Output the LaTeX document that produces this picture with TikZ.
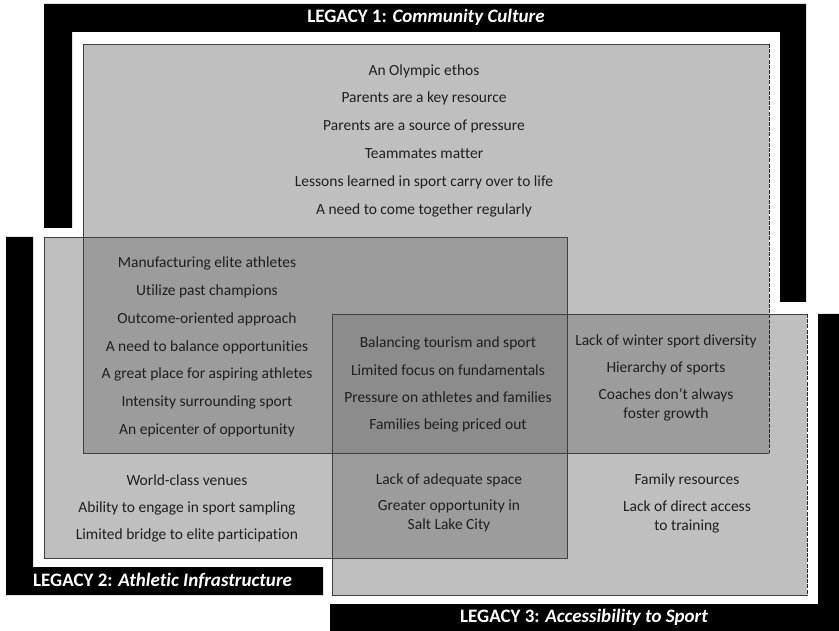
\documentclass[tikz,border=0pt]{standalone}
\usepackage{fontspec}
\setmainfont[Ligatures=NoCommon]{Carlito}
\begin{document}
\begin{tikzpicture}[x=1pt,y=-1pt,
  item/.style={inner sep=0pt, text=black!88, font=\fontsize{15.5}{19}\selectfont, align=center, yshift=-2pt},
  heading/.style={inner sep=0pt, text=white, font=\fontsize{19}{22}\selectfont\bfseries, anchor=west},
  bracket/.style={fill=black, draw=none},
  edge/.style={draw=black!75, line width=0.9pt},
  dashededge/.style={draw=black!85, line width=0.9pt, dash pattern=on 4pt off 1.2pt}]
\useasboundingbox (0,0) rectangle (839,631);
\fill[white] (0,0) rectangle (839,631);

% black frames of the three legacies
\fill[bracket] (44,4) -- (806,4) -- (806,302) -- (780,302) -- (780,32) -- (72,32) -- (72,228) -- (44,228) -- cycle;
\fill[bracket] (6,237) -- (33,237) -- (33,567) -- (323,567) -- (323,595) -- (6,595) -- cycle;
\fill[bracket] (818,314) -- (839,314) -- (839,631) -- (330,631) -- (330,604) -- (818,604) -- cycle;

% region fills: single, pairwise and triple overlaps
\fill[black!25] (83,44) rectangle (769,453);
\fill[black!25] (44,237) rectangle (567,558);
\fill[black!25] (332,314) rectangle (807,595);
\fill[black!39] (83,237) rectangle (567,453);
\fill[black!39] (332,314) rectangle (769,453);
\fill[black!39] (332,314) rectangle (567,558);
\fill[black!45] (332,314) rectangle (567,453);

% region outlines
\draw[edge] (769,44) -- (83,44) -- (83,453) -- (769,453);
\draw[dashededge] (769,44) -- (769,453);
\draw[edge] (44,237) rectangle (567,558);
\draw[edge] (807,314) -- (332,314) -- (332,595) -- (807,595);
\draw[dashededge] (807,314) -- (807,595);

% headings
\node[heading, anchor=center] (h1) at (426,17) {LEGACY 1: \textit{Community Culture}};
\node[heading] (h2) at (33,581) {LEGACY 2: \textit{Athletic Infrastructure}};
\node[heading] (h3) at (460,617) {LEGACY 3: \textit{Accessibility to Sport}};

% Legacy 1 only
\node[item] (a1) at (424,69) {An Olympic ethos};
\node[item] (a2) at (424,96) {Parents are a key resource};
\node[item] (a3) at (424,124) {Parents are a source of pressure};
\node[item] (a4) at (424,152) {Teammates matter};
\node[item] (a5) at (424,180) {Lessons learned in sport carry over to life};
\node[item] (a6) at (424,208) {A need to come together regularly};

% Legacy 1 and 2
\node[item] (b1) at (207,261) {Manufacturing elite athletes};
\node[item] (b2) at (207,289) {Utilize past champions};
\node[item] (b3) at (207,317) {Outcome-oriented approach};
\node[item] (b4) at (207,345) {A need to balance opportunities};
\node[item] (b5) at (207,372) {A great place for aspiring athletes};
\node[item] (b6) at (207,400) {Intensity surrounding sport};
\node[item] (b7) at (207,428) {An epicenter of opportunity};

% all three legacies
\node[item] (c1) at (448,341) {Balancing tourism and sport};
\node[item] (c2) at (448,368) {Limited focus on fundamentals};
\node[item] (c3) at (448,395) {Pressure on athletes and families};
\node[item] (c4) at (448,423) {Families being priced out};

% Legacy 1 and 3
\node[item] (d1) at (666,339) {Lack of winter sport diversity};
\node[item] (d2) at (666,366) {Hierarchy of sports};
\node[item] (d3) at (666,403) {Coaches don’t always\\foster growth};

% Legacy 2 only
\node[item] (e1) at (187,478) {World-class venues};
\node[item] (e2) at (187,506) {Ability to engage in sport sampling};
\node[item] (e3) at (187,533) {Limited bridge to elite participation};

% Legacy 2 and 3
\node[item] (f1) at (449,478) {Lack of adequate space};
\node[item] (f2) at (449,514) {Greater opportunity in\\Salt Lake City};

% Legacy 3 only
\node[item] (g1) at (687,478) {Family resources};
\node[item] (g2) at (687,515) {Lack of direct access\\to training};
\end{tikzpicture}
\end{document}
